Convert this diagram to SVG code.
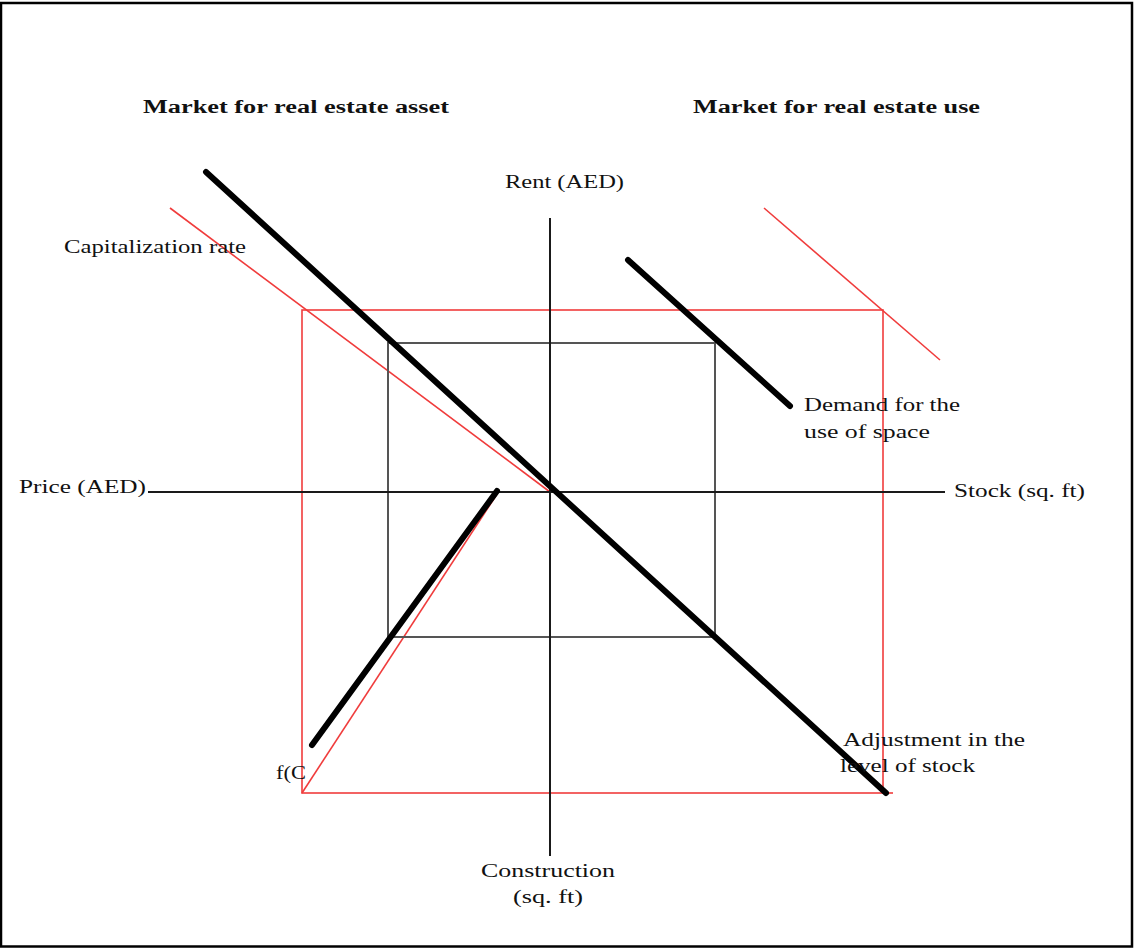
<svg xmlns="http://www.w3.org/2000/svg" width="1134" height="949" viewBox="0 0 1134 949">
<style>
text{font-family:"Liberation Serif","Times New Roman",serif;fill:#111;font-size:18px}
.h{font-weight:bold;font-size:18px}
.red{stroke:#f03c3c;stroke-width:1.6;fill:none}
.axis{stroke:#1a1a1a;stroke-width:2;fill:none}
.grey{stroke:#555;stroke-width:2;fill:none}
.curve{stroke:#000;stroke-width:6;stroke-linecap:round;fill:none}
</style>
<rect x="0" y="0" width="1134" height="949" fill="#fff"/>
<rect x="1" y="3" width="1131" height="943.5" fill="none" stroke="#000" stroke-width="2.5"/>
<g id="connectors">
<rect class="red" x="302" y="310" width="581" height="483"/>
<line class="red" x1="883" y1="793" x2="893" y2="793"/>
<line class="red" x1="170" y1="208" x2="550" y2="492"/>
<line class="red" x1="764" y1="208" x2="940" y2="360"/>
<line class="red" x1="302" y1="793" x2="497" y2="494"/>
<rect class="grey" x="388" y="343" width="327" height="294"/>
<line class="axis" x1="148" y1="492" x2="945" y2="492"/>
<line class="axis" x1="550" y1="218" x2="550" y2="856"/>
<line class="curve" x1="206" y1="172" x2="886" y2="793"/>
<line class="curve" x1="628" y1="260" x2="790" y2="406"/>
<line class="curve" x1="312" y1="745" x2="497" y2="491"/>
</g>
<g id="title-asset"><text class="h" x="143" y="113" textLength="306" lengthAdjust="spacingAndGlyphs">Market for real estate asset</text></g>
<g id="title-use"><text class="h" x="693" y="113" textLength="287" lengthAdjust="spacingAndGlyphs">Market for real estate use</text></g>
<g id="rent"><text x="505" y="188" textLength="119" lengthAdjust="spacingAndGlyphs">Rent (AED)</text></g>
<g id="cap-rate"><text x="64" y="253" textLength="182" lengthAdjust="spacingAndGlyphs">Capitalization rate</text></g>
<g id="price"><text x="19" y="493" textLength="127" lengthAdjust="spacingAndGlyphs">Price (AED)</text></g>
<g id="stock"><text x="954" y="497" textLength="131" lengthAdjust="spacingAndGlyphs">Stock (sq. ft)</text></g>
<g id="demand"><text x="804" y="411" textLength="156" lengthAdjust="spacingAndGlyphs">Demand for the</text><text x="804" y="438" textLength="126" lengthAdjust="spacingAndGlyphs">use of space</text></g>
<g id="fc"><text x="276" y="779" textLength="30" lengthAdjust="spacingAndGlyphs">f(C</text></g>
<g id="adjustment"><text x="843" y="746" textLength="182" lengthAdjust="spacingAndGlyphs">Adjustment in the</text><text x="840" y="772" textLength="135" lengthAdjust="spacingAndGlyphs">level of stock</text></g>
<g id="construction"><text x="481" y="877" textLength="134" lengthAdjust="spacingAndGlyphs">Construction</text><text x="513" y="903" textLength="70" lengthAdjust="spacingAndGlyphs">(sq. ft)</text></g>
</svg>
